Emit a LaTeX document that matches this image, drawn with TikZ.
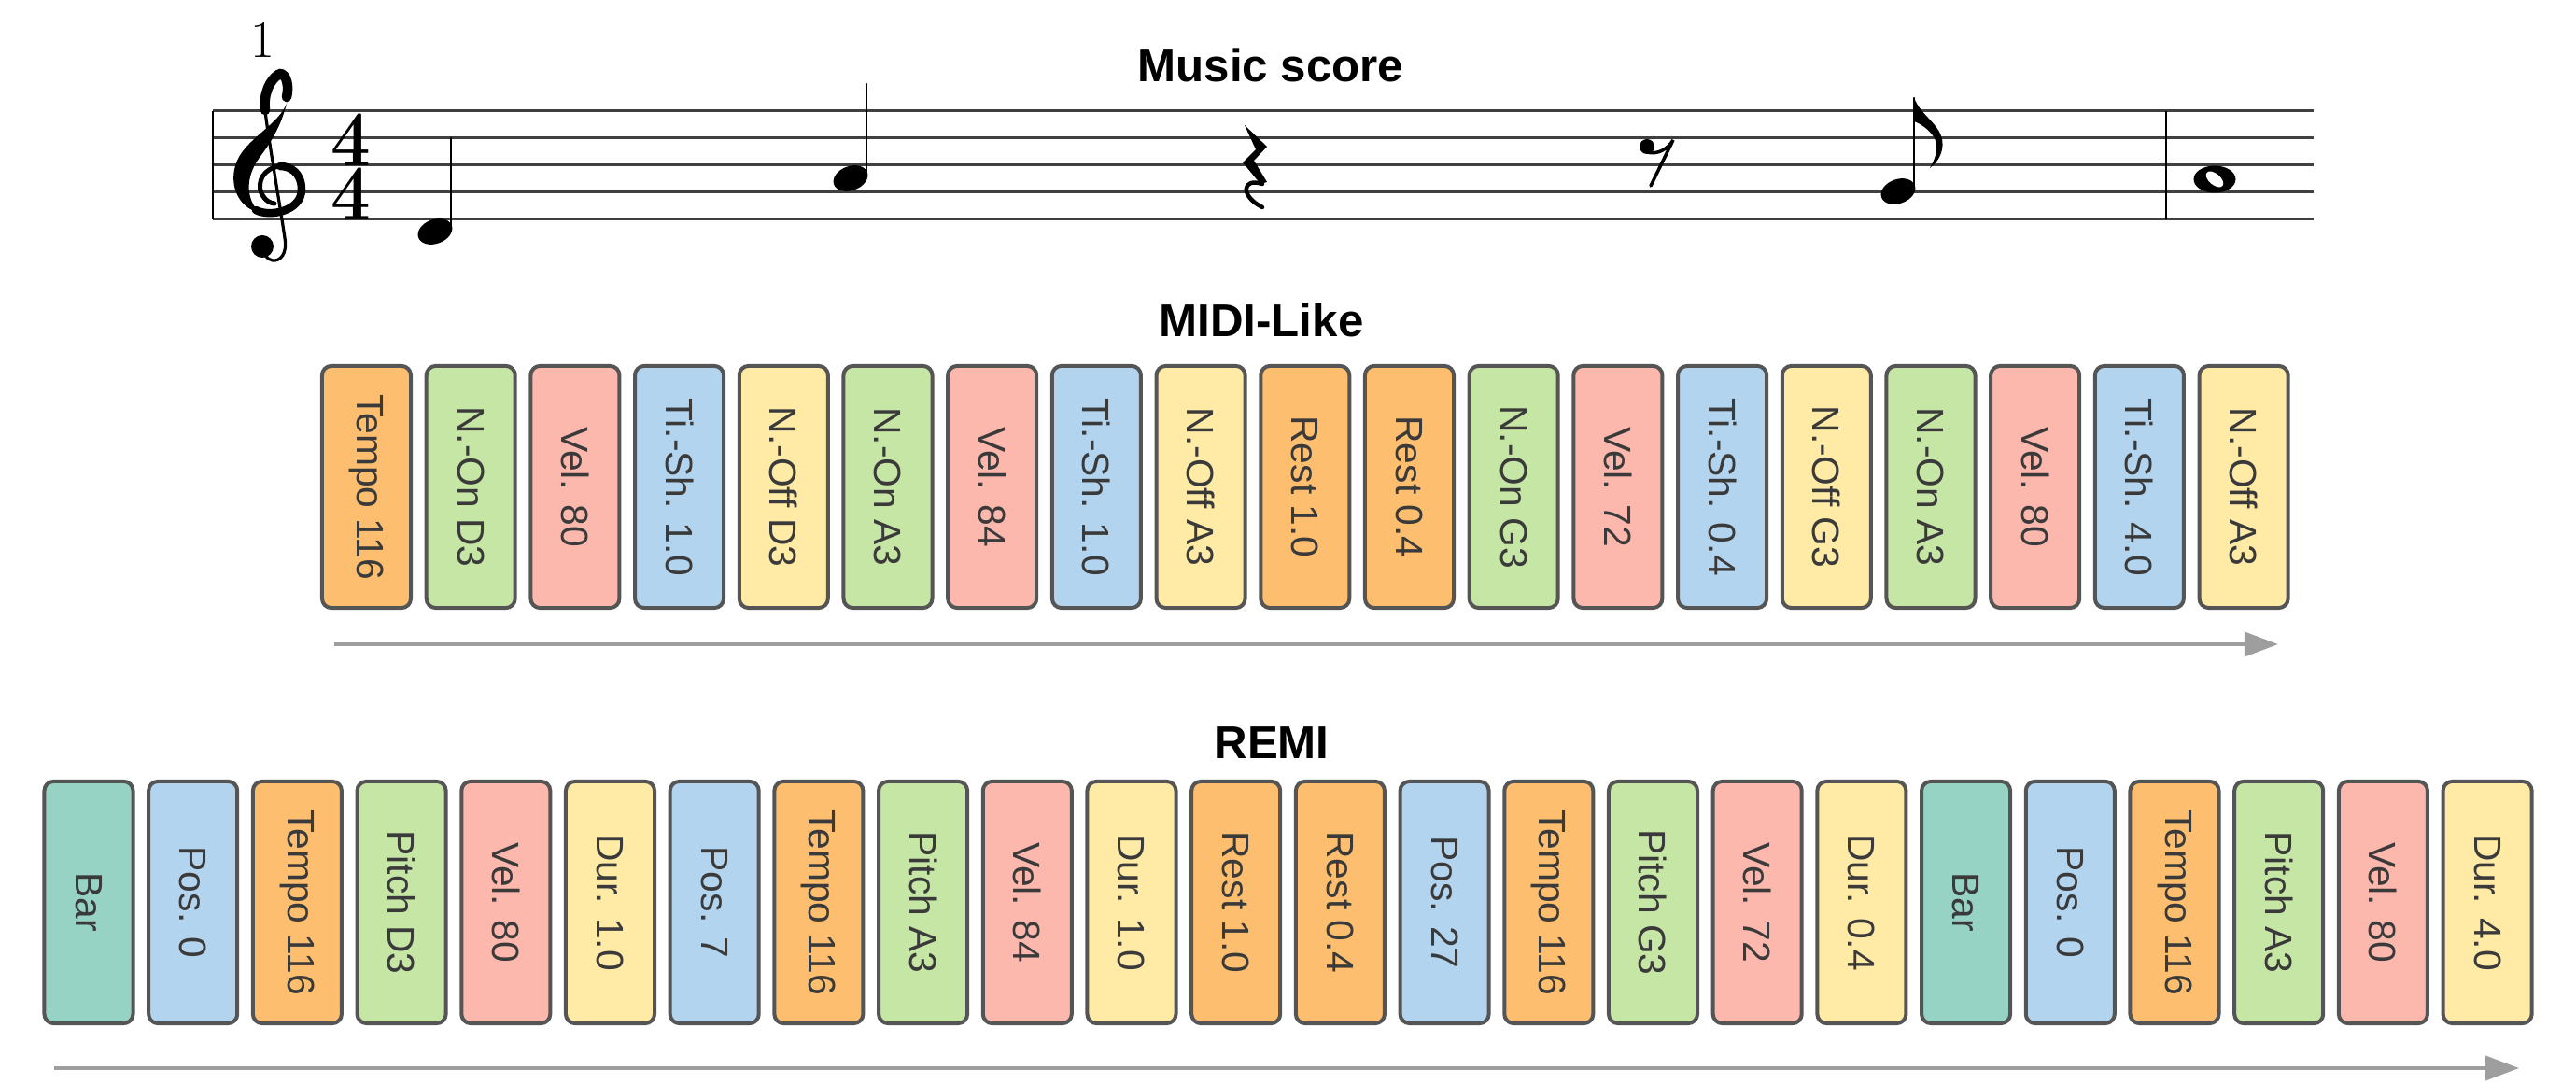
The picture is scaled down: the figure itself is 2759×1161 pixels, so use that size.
\documentclass[tikz,border=0pt]{standalone}
\usepackage{fontspec}
\setsansfont{Liberation Sans}
\usetikzlibrary{arrows.meta}
\definecolor{TokOrange}{HTML}{FDBF6F}
\definecolor{TokGreen}{HTML}{C6E6A5}
\definecolor{TokPink}{HTML}{FDB8AE}
\definecolor{TokBlue}{HTML}{B3D4EF}
\definecolor{TokYellow}{HTML}{FFEAA6}
\definecolor{TokTeal}{HTML}{96D3C5}
\definecolor{TokLine}{HTML}{555555}
\definecolor{TokText}{HTML}{3A3A3A}
\definecolor{ArrowGray}{HTML}{9E9E9E}

\begin{document}
\begin{tikzpicture}[x=0.01cm, y=-0.01cm,
    token/.style={draw=TokLine, line width=0.4mm, rounded corners=1mm, rotate=-90,
        minimum width=2.59cm, minimum height=0.95cm, inner sep=0pt,
        text=TokText, font=\sffamily\fontsize{11.6}{13}\selectfont},
    title/.style={anchor=base, font=\sffamily\bfseries\fontsize{14}{16}\selectfont},
    timeline/.style={draw=ArrowGray, line width=0.4mm, -{Triangle[length=3.6mm, width=2.6mm]}},
    staffline/.style={line width=0.3mm, draw=black!75},
    timesig/.style={inner sep=0pt, align=center, font=\fontsize{24}{16.44}\selectfont\bfseries},
    stem/.style={line width=0.25mm, line cap=round}]
    \useasboundingbox (0,0) rectangle (2759,1161);

    % Music score
    \node[title] (scoretitle) at (1361,88) {Music score};
    \foreach \k in {0,...,4}
        \draw[staffline] (228,{119+29*\k}) -- (2478,{119+29*\k});
    \draw[line width=0.2mm] (228,119) -- (228,235);
    \draw[line width=0.2mm] (2320,119) -- (2320,235);
    \node[anchor=base, inner sep=0pt, font=\fontsize{16}{16}\selectfont] (barnum) at (281,62) {1};
    \node[timesig] (timesig) at (376,179) {\scalebox{0.9}[1]{4}\\\scalebox{0.9}[1]{4}};

    % treble clef
    \fill (309,102) .. controls (307,130) and (266,145) .. (254,172)
        .. controls (244,196) and (254,222) .. (278,228)
        .. controls (263,213) and (263,190) .. (277,170)
        .. controls (292,150) and (303,132) .. (309,102) -- cycle;
    \draw[line width=0.85mm, line cap=round] (274,225) .. controls (289,233) and (323,226) .. (323,203)
        .. controls (323,185) and (311,178) .. (300,178);
    \draw[line width=0.5mm, line cap=round] (300,178)
        .. controls (282,180) and (275,195) .. (280,207)
        .. controls (284,215) and (290,218) .. (294,218);
    \draw[line width=1.05mm, line cap=round] (307,104) .. controls (311,86) and (303,76) .. (298,80)
        .. controls (289,86) and (282,100) .. (284,118);
    \draw[line width=0.32mm, line cap=round] (284,118) .. controls (286,140) and (300,220) .. (305,255)
        .. controls (308,272) and (300,280) .. (292,279)
        .. controls (286,278) and (282,272) .. (281,266);
    \fill (281,264) circle (12);

    % notes and rests
    \fill[rotate around={20:(466,248)}] (466,248) ellipse [x radius=19, y radius=13];
    \draw[stem] (483,244) -- (483,148);
    \fill[rotate around={20:(911,191)}] (911,191) ellipse [x radius=19, y radius=13];
    \draw[stem] (928,187) -- (928,90);
    \fill (1333,134) -- (1357,157) -- (1343,172) -- (1357,195) -- (1350,197)
        -- (1331,174) -- (1345,160) -- cycle;
    \draw[line width=0.45mm, line cap=round] (1352,197) .. controls (1330,190) and (1328,210) .. (1352,222);
    \fill (1764,157) circle (8);
    \draw[line width=0.35mm, line cap=round] (1764,163) .. controls (1775,166) and (1786,160) .. (1792,150) -- (1768,199);
    \fill[rotate around={20:(2033,205)}] (2033,205) ellipse [x radius=19, y radius=13];
    \draw[stem] (2050,201) -- (2050,105);
    \fill (2050,104) .. controls (2056,125) and (2085,135) .. (2080,160)
        .. controls (2078,170) and (2072,176) .. (2067,180)
        .. controls (2074,168) and (2076,158) .. (2072,148)
        .. controls (2066,138) and (2056,132) .. (2050,130) -- cycle;
    \fill (2372,192) ellipse [x radius=22.5, y radius=14.5];
    \fill[white, rotate around={-40:(2372,192)}] (2372,192) ellipse [x radius=11, y radius=6];

    % MIDI-Like tokens
    \node[title] (miditle) at (1351,361) {MIDI-Like};
    \foreach \col/\txt [count=\i] in {TokOrange/Tempo 116, TokGreen/N.-On D3, TokPink/Vel. 80,
        TokBlue/Ti.-Sh. 1.0, TokYellow/N.-Off D3, TokGreen/N.-On A3, TokPink/Vel. 84,
        TokBlue/Ti.-Sh. 1.0, TokYellow/N.-Off A3, TokOrange/Rest 1.0, TokOrange/Rest 0.4,
        TokGreen/N.-On G3, TokPink/Vel. 72, TokBlue/Ti.-Sh. 0.4, TokYellow/N.-Off G3,
        TokGreen/N.-On A3, TokPink/Vel. 80, TokBlue/Ti.-Sh. 4.0, TokYellow/N.-Off A3}
        \node[token, fill=\col] (midi\i) at ({392.5+(\i-1)*111.7}, 521.5) {\txt};
    \coordinate (midistart) at (358,690);
    \coordinate (midiend) at (2440,690);
    \draw[timeline] (midistart) -- (midiend);

    % REMI tokens
    \node[title] (remititle) at (1362,813) {REMI};
    \foreach \col/\txt [count=\i] in {TokTeal/Bar, TokBlue/Pos. 0, TokOrange/Tempo 116,
        TokGreen/Pitch D3, TokPink/Vel. 80, TokYellow/Dur. 1.0, TokBlue/Pos. 7,
        TokOrange/Tempo 116, TokGreen/Pitch A3, TokPink/Vel. 84, TokYellow/Dur. 1.0,
        TokOrange/Rest 1.0, TokOrange/Rest 0.4, TokBlue/Pos. 27, TokOrange/Tempo 116,
        TokGreen/Pitch G3, TokPink/Vel. 72, TokYellow/Dur. 0.4, TokTeal/Bar, TokBlue/Pos. 0,
        TokOrange/Tempo 116, TokGreen/Pitch A3, TokPink/Vel. 80, TokYellow/Dur. 4.0}
        \node[token, fill=\col] (remi\i) at ({95+(\i-1)*111.7}, 966.5) {\txt};
    \coordinate (remistart) at (58,1144);
    \coordinate (remiend) at (2698,1144);
    \draw[timeline] (remistart) -- (remiend);
\end{tikzpicture}
\end{document}
